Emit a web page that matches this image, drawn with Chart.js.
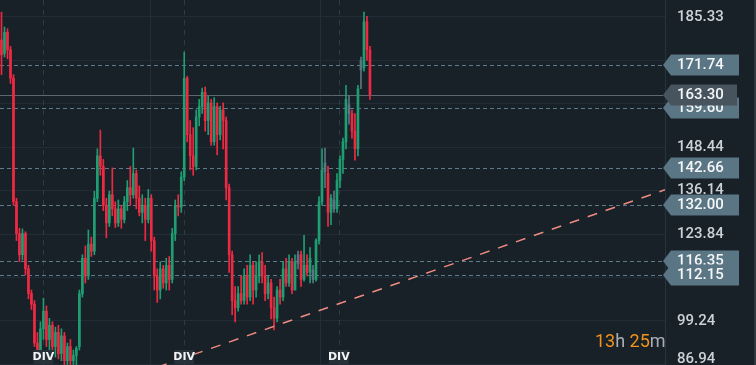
<!DOCTYPE html>
<html><head><meta charset="utf-8">
<script src="https://cdn.jsdelivr.net/npm/chart.js@4/dist/chart.umd.min.js"></script>
<style>html,body{margin:0;padding:0;background:#182028;}#wrap{width:756px;height:365px;position:relative;}</style>
</head><body><div id="wrap"><canvas id="c" width="756" height="365"></canvas></div>
<script>
// ---- data ----
const slotCount = 222;
const open  = [178.8,175,181,176,168,133,124,118,124,114,107,104,93,91,97,102,94,98,92,96,90,95,88,92,88,89.5,92,107,117,112,121,119,134,146,143,132,127,135,131,127,131,128,133,137,135,141,134,130,132,128,134,122,112,108,114,110,115,111,124,132,131.5,140,168,152,146,143,157,160,164,156,161,150,160,152,159,156,137,118,105,103,107,105,112,106,115,108,112,116,112,107,110,103,100,108,106,114,110,116,108,115.5,118,111,115,113,113.7,111,122,133,144,141,130,133.5,131,139,145,150,160.5,158,153,148,170.3,171,184,176];
const high  = [186.7,182.5,182,177,169,134,125.5,125.3,124.5,115,108,105,96,99,105.7,103.5,100,99,97.5,98,97,96,93,94,91,92,108,118,120.5,125,123,136,148,153.3,145,134,136,142.6,133,133.5,132,134.5,139,143,148.2,142,137.5,135,134,136.5,135,123,114,116,115,117,117.5,125.5,133.5,135,141.5,175.4,168.5,156,154,159,162,165.2,165.5,163,162,162.5,161,160,161,157,138,119,109,109,112,114,115,118,116,116,118,118.6,115,112,111,106,109,111,116,117,118,117,118,119,119,123.5,118,120,115,122.5,134.5,148,148.2,143,135,136,141,146,151,166,163,159,158,166,174,186.7,185.5,177];
const low   = [169,174,173.5,166.5,132,122,116,116.5,112.3,105.5,102.5,92,89.5,90,94,92,91,90,89,88.5,88,86.9,86.9,86.9,86.9,86.9,91,106,110,111,117.5,118,133,140.5,130.5,122.8,126,129,125.7,126,125.5,127,130.5,132,134,131,129,127,122,127,119,108,104.5,105.5,108.5,108,108,110,122,129,130,139,150,142,140.5,142,154.5,158,153,152,149,149,146.3,150.5,148,133.5,113,101,99,102,104,104,104,105,104,106,110,110,105,105.5,99.8,96.7,99,104,105,109,109,107,108,114,109,110.5,112,110,110,110.5,121,132,137,126,126.5,130,130,137,141,148,155,151,144.8,146,165,170,173,162];
const close = [174.6,181,176,168,133,124,118,124,114,107,104,93,91,97,102,94,98,92,96,90,95,88,92,88,89.5,91.5,107,117,112,121,119,134,146,143,132,127,135,131,127,131,128,133,137,135,141,134,130,132,128,134,122,112,108,114,110,115,111,124,132,131.5,140,168,152,146,143,157,160,164,156,161,150,160,152,159,156,137,118,105,103,107,105,112,106,115,108,112,116,112,107,110,103,100,108,106,114,110,116,108,116,118,111,115,113,117,110.9,122,133,142,141.5,130,134,131,139,145,150,162,158,153,148,165,173,184,176,163.3];
const neutralCandles = [99,104,108,111,116,120];
const gridValues = [86.94,99.24,111.54,123.84,136.14,148.44,160.74,173.04,185.34];
const axisLabels = [185.33,148.44,136.14,123.84,99.24,86.94];
const levels = [171.74,159.60,142.66,132.00,116.35,112.15];
const lastPrice = 163.30;
const dividendIdx = [14,61,112.6];
const periodIdx = [49.5,106.2];
const trendFrom = {i:40, p:82.6};
const trendTo = {i:221.5, p:136.4};
const countdown = [["13","o"],["h","g"],[" 25","o"],["m","g"]];
const yMin = 86.77, yMax = 190.14;

// ---- styles ----
const BG = '#182028', GREEN = '#1f9e72', RED = '#ee2a43', GRAY = '#5d7482';
const labels = Array.from({length:slotCount},(_,i)=>i);
const col = ctx => { const i = ctx.dataIndex; if (neutralCandles.includes(i)) return GRAY; return close[i] >= open[i] ? GREEN : RED; };
const FONT = '500 15px Roboto';

const overlay = {
  id:'overlay',
  beforeDraw(chart){ const c=chart.ctx; c.save(); c.fillStyle=BG; c.fillRect(0,0,chart.width,chart.height); c.restore(); },
  beforeDatasetsDraw(chart){
    const c=chart.ctx, x=chart.scales.x, y=chart.scales.y, a=chart.chartArea;
    c.save();
    c.strokeStyle='#232e38'; c.lineWidth=1;
    periodIdx.forEach(v=>{ const px=Math.round(x.getPixelForValue(v))+0.5; c.beginPath(); c.moveTo(px,a.top); c.lineTo(px,a.bottom); c.stroke(); });
    c.strokeStyle='#2e3b45'; c.setLineDash([5,5]);
    dividendIdx.forEach(v=>{ const px=Math.round(x.getPixelForValue(v))+0.5; c.beginPath(); c.moveTo(px,a.top); c.lineTo(px,a.bottom); c.stroke(); });
    c.strokeStyle='#5f7c8a'; c.setLineDash([4,3]);
    levels.forEach(v=>{ const py=Math.round(y.getPixelForValue(v))+0.5; c.beginPath(); c.moveTo(a.left,py); c.lineTo(663,py); c.stroke(); });
    c.setLineDash([]);
    c.strokeStyle='#5b6871';
    const lp=Math.round(y.getPixelForValue(lastPrice))+0.5; c.beginPath(); c.moveTo(a.left,lp); c.lineTo(663,lp); c.stroke();
    c.restore();
  },
  afterDatasetsDraw(chart){
    const c=chart.ctx, x=chart.scales.x, y=chart.scales.y, a=chart.chartArea;
    c.save();
    c.beginPath(); c.rect(a.left,a.top,a.right-a.left,a.bottom-a.top); c.clip();
    c.strokeStyle='#ef8b80'; c.lineWidth=1.5; c.setLineDash([10,9]);
    c.beginPath(); c.moveTo(x.getPixelForValue(trendFrom.i), y.getPixelForValue(trendFrom.p));
    c.lineTo(x.getPixelForValue(trendTo.i), y.getPixelForValue(trendTo.p)); c.stroke();
    c.restore();
    c.save();
    c.font='bold 11px "DejaVu Sans"'; c.textAlign='center'; c.textBaseline='middle';
    dividendIdx.forEach(v=>{ const px=x.getPixelForValue(v); c.fillStyle='#27313a'; c.fillRect(px-10,350,20,14); c.fillStyle='#f2f4f5'; c.fillText('DIV',px,357.5); });
    c.strokeStyle='#29333c'; c.lineWidth=1; c.beginPath(); c.moveTo(665.5,0); c.lineTo(665.5,365); c.stroke();
    c.font=FONT; c.textAlign='left'; c.textBaseline='middle'; c.fillStyle='#cdd2d6';
    axisLabels.forEach(v=>{ let py=y.getPixelForValue(v); py=Math.min(py,359); c.fillText(v.toFixed(2),677,py); });
    const tag=(v,color,right)=>{ const py=Math.round(y.getPixelForValue(v)); c.fillStyle=color; c.beginPath(); c.moveTo(663,py); c.lineTo(671,py-10.5); c.lineTo(right,py-10.5); c.lineTo(right,py+10.5); c.lineTo(671,py+10.5); c.closePath(); c.fill(); c.fillStyle='#f4f6f7'; c.fillText(v.toFixed(2),677,py+0.5); };
    levels.forEach(v=>tag(v,'#5a7583',739));
    tag(lastPrice,'#47535d',737);
    c.font='18px Roboto'; c.textBaseline='alphabetic';
    let cx=595; countdown.forEach(([t,k])=>{ c.fillStyle = k==='o' ? '#f0931c' : '#a9afb4'; c.fillText(t,cx,347); cx+=c.measureText(t).width; });
    c.fillStyle='#2f383f'; c.fillRect(754,0,2,365);
    c.restore();
  }
};

new Chart(document.getElementById('c'), {
  type:'bar',
  data:{ labels, datasets:[
    { data: low.map((l,i)=>[l,high[i]]), backgroundColor:col, barThickness:1, grouped:false, order:2 },
    { data: open.map((o,i)=>[o,close[i]]), backgroundColor:col, barThickness:2, grouped:false, order:1, minBarLength:1 }
  ]},
  options:{
    responsive:false, animation:false, events:[],
    layout:{padding:0},
    plugins:{legend:{display:false}, tooltip:{enabled:false}},
    scales:{
      x:{ display:false, offset:true },
      y:{ position:'right', min:yMin, max:yMax,
          afterBuildTicks(s){ s.ticks = gridValues.map(v=>({value:v})); },
          afterFit(s){ s.width = 91; },
          ticks:{ display:false },
          grid:{ color:'#222c36', drawTicks:false },
          border:{ display:false } }
    }
  },
  plugins:[overlay]
});
</script></body></html>
